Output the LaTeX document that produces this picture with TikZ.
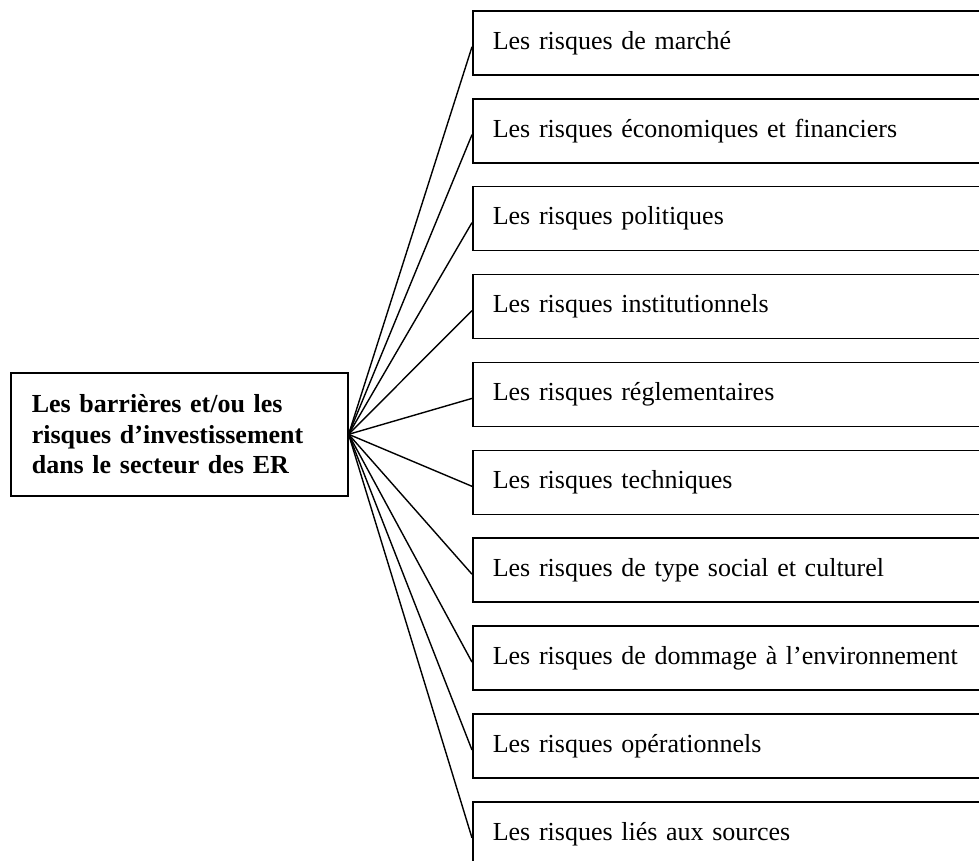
\documentclass[tikz,border=0pt]{standalone}
\usepackage{fontspec}
\setmainfont{Liberation Serif}
\begin{document}
\begin{tikzpicture}[x=1pt,y=-1pt,
  rbox/.style={draw,line width=1.6pt,anchor=north west,minimum width=540pt,minimum height=64pt,
    text width=500pt,align=left,inner xsep=20pt,inner ysep=0pt,font=\fontsize{26}{30}\selectfont},
  lbox/.style={draw,line width=1.6pt,anchor=north west,minimum width=337pt,minimum height=123pt,
    text width=295pt,align=left,inner xsep=20pt,font=\fontsize{26}{30.5}\selectfont\bfseries},
  link/.style={line width=1.4pt}]
\useasboundingbox (0,0) rectangle (979,860);
\clip (0,0) rectangle (979,860);
\node[lbox] (L) at (10,372) {Les barrières et/ou les\\risques d’investissement\\dans le secteur des ER};
\foreach \i/\t in {0/{Les risques de marché},
  1/{Les risques économiques et financiers},
  2/{Les risques politiques},
  3/{Les risques institutionnels},
  4/{Les risques réglementaires},
  5/{Les risques techniques},
  6/{Les risques de type social et culturel},
  7/{Les risques de dommage à l’environnement},
  8/{Les risques opérationnels},
  9/{Les risques liés aux sources}}{
  \node[rbox] (r\i) at (472,{10+87.9*\i}) {\t};
  \draw[link] (L.east) -- ([yshift=-4pt]r\i.west);
}
\end{tikzpicture}
\end{document}
